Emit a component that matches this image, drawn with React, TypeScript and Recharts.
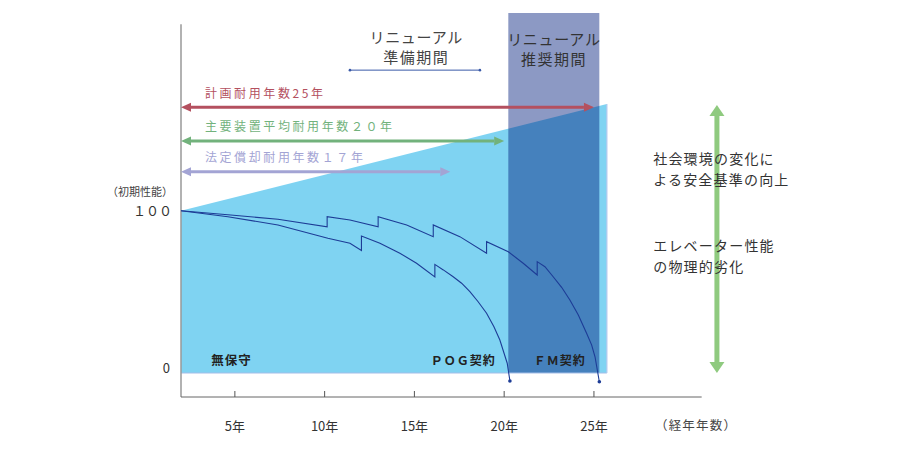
import React from "react";
import { ComposedChart, Area, Line, XAxis, YAxis, ReferenceLine, ReferenceDot } from "recharts";

// x: 経過年数, y: 性能 (初期 = 100)
const yearTicks = [5, 10, 15, 20, 25];
const levelTicks = [0, 100];
const levelLabels = ["0", "１００"];

// 社会環境の変化による要求水準 (台形)
const envelopeYears = [2, 25.72];
const envelopeValues = [100, 165.7];

// リニューアル推奨期間
const renewalYears = [20.23, 25.3];
const renewalValues = [221.8, 221.8];

// POG契約
const pogYears = [2, 4.61, 7.4, 10.18, 11.41, 12.05, 12.05, 13.08, 14.19, 15.12, 16.14, 16.14, 16.61, 17.16, 17.63, 18.09, 18.55, 19.02, 19.43, 19.76, 20.17, 20.32];
const pogValues = [100, 96.3, 91.2, 83.0, 79.9, 75.5, 84.4, 79.9, 73.8, 67.6, 59.2, 66.9, 63.5, 59.3, 55.3, 50.1, 43.9, 36.8, 28.5, 20.3, 6.0, -4.9];

// FM契約
const fmYears = [2, 4.61, 7.4, 10.14, 10.14, 11.41, 12.98, 12.98, 14.57, 16.05, 16.05, 17.53, 19.02, 19.02, 20.23, 21.06, 21.84, 21.84, 22.27, 22.73, 23.2, 23.66, 24.13, 24.59, 24.87, 25.06, 25.3];
const fmValues = [100, 97.5, 94.7, 90.1, 96.3, 94.3, 90.1, 96.3, 91.2, 84.0, 91.2, 84.0, 73.8, 80.9, 74.7, 67.6, 60.4, 68.6, 65.5, 59.3, 52.8, 45.0, 35.7, 24.5, 17.3, 10.0, -5.4];

const lifespanYears = [25, 20, 17];
const lifespanLabels = ["計画耐用年数25年", "主要装置平均耐用年数２０年", "法定償却耐用年数１７年"];
const prepYears = [11.41, 18.65];

const FONT = '"Noto Sans CJK JP", "Noto Sans", sans-serif';
const X_MIN = 2;
const X_MAX = 40;
const Y_MIN = -14.8;
const Y_MAX = 221.8;
const AXIS_X = 181;
const AXIS_Y = 397;

const toRows = (xs: number[], ys: number[]) => xs.map((year, i) => ({ year, value: ys[i] }));

const arrowShape = (color: string, width: number, head: number, half: number) => (p: any) => {
  const { x1, y1, x2, y2 } = p;
  const len = Math.hypot(x2 - x1, y2 - y1) || 1;
  const ux = (x2 - x1) / len;
  const uy = (y2 - y1) / len;
  const nx = -uy;
  const ny = ux;
  const ax = x1 + ux * head, ay = y1 + uy * head;
  const bx = x2 - ux * head, by = y2 - uy * head;
  return (
    <g>
      <line x1={ax} y1={ay} x2={bx} y2={by} stroke={color} strokeWidth={width} />
      <polygon points={`${x1},${y1} ${ax + nx * half},${ay + ny * half} ${ax - nx * half},${ay - ny * half}`} fill={color} />
      <polygon points={`${x2},${y2} ${bx + nx * half},${by + ny * half} ${bx - nx * half},${by - ny * half}`} fill={color} />
    </g>
  );
};

const textDot = (key: string, x: number, y: number, text: string, opts: any) => (
  <ReferenceDot
    key={key}
    x={x}
    y={y}
    r={0}
    ifOverflow="visible"
    shape={(p: any) => (
      <text
        x={p.cx}
        y={p.cy}
        dominantBaseline="central"
        fontFamily={FONT}
        fontSize={opts.size}
        fill={opts.color}
        fontWeight={opts.weight || 400}
        letterSpacing={opts.spacing || 0}
        textAnchor={opts.anchor || "start"}
      >
        {text}
      </text>
    )}
  />
);

const YearTick = (p: any) => (
  <g>
    <line x1={p.x} y1={AXIS_Y - 6} x2={p.x} y2={AXIS_Y} stroke="#555" strokeWidth={1} />
    <text x={p.x} y={AXIS_Y + 28} textAnchor="middle" dominantBaseline="central" fontFamily={FONT} fontSize={13} fill="#333">
      {p.payload.value}年
    </text>
  </g>
);

const LevelTick = (p: any) => {
  const v = p.payload.value;
  const label = levelLabels[levelTicks.indexOf(v)];
  const tx = AXIS_X - 9;
  if (v === 100) {
    return (
      <g>
        <text x={tx + 1} y={p.y - 20} textAnchor="end" dominantBaseline="central" fontFamily={FONT} fontSize={11} fill="#444">
          （初期性能）
        </text>
        <text x={tx} y={p.y} textAnchor="end" dominantBaseline="central" fontFamily={FONT} fontSize={13} fill="#333">
          {label}
        </text>
      </g>
    );
  }
  return (
    <text x={tx - 2} y={p.y - 5} textAnchor="end" dominantBaseline="central" fontFamily={FONT} fontSize={13} fill="#333">
      {label}
    </text>
  );
};

const endDot = (last: number) => (p: any) =>
  p.index === last ? <circle key={p.index} cx={p.cx} cy={p.cy} r={1.8} fill="#1d3c96" /> : <g key={p.index} />;

const lifespanColors = ["#b4505f", "#72b27c", "#a3a4d4"];
const lifespanLevels = [163.8, 143.0, 124.0];

export default function App() {
  const envRows = toRows(envelopeYears, envelopeValues);
  const renewalRows = toRows(renewalYears, renewalValues);
  const pogRows = toRows(pogYears, pogValues);
  const fmRows = toRows(fmYears, fmValues);

  return (
    <div style={{ position: "absolute", left: 0, top: 0, background: "#fff" }}>
      <ComposedChart width={900} height={450} margin={{ top: 13, right: 36.75, bottom: 13, left: 101 }}>
        <XAxis
          dataKey="year"
          type="number"
          domain={[X_MIN, X_MAX]}
          ticks={yearTicks}
          allowDataOverflow
          axisLine={false}
          tickLine={false}
          tickSize={0}
          tickMargin={0}
          height={40}
          tick={<YearTick />}
        />
        <YAxis
          type="number"
          domain={[Y_MIN, Y_MAX]}
          ticks={levelTicks}
          allowDataOverflow
          axisLine={false}
          tickLine={false}
          width={80}
          tick={<LevelTick />}
        />

        <Area data={envRows} dataKey="value" type="linear" baseValue={0} fill="#7fd3f2" fillOpacity={1} stroke="none" isAnimationActive={false} />
        <Area data={renewalRows} dataKey="value" type="linear" baseValue={0} fill="rgb(0,28,124)" fillOpacity={0.45} stroke="none" isAnimationActive={false} />

        <ReferenceLine segment={[{ x: envelopeYears[0], y: 0 }, { x: envelopeYears[1], y: 0 }]} stroke="#a3bde8" strokeWidth={1.2} ifOverflow="visible" />
        <ReferenceLine segment={[{ x: envelopeYears[1], y: 0 }, { x: envelopeYears[1], y: envelopeValues[1] }]} stroke="#b0c8ee" strokeWidth={1.2} ifOverflow="visible" />

        <ReferenceLine segment={[{ x: X_MIN, y: Y_MIN }, { x: X_MIN, y: 214.8 }]} stroke="#999" strokeWidth={1.5} ifOverflow="visible" />
        <ReferenceLine segment={[{ x: X_MIN, y: Y_MIN }, { x: 31, y: Y_MIN }]} stroke="#666" strokeWidth={1} ifOverflow="visible" />

        {lifespanYears.map((yr, i) => (
          <ReferenceLine
            key={`ls${i}`}
            segment={[{ x: X_MIN, y: lifespanLevels[i] }, { x: yr, y: lifespanLevels[i] }]}
            ifOverflow="visible"
            shape={arrowShape(lifespanColors[i], 3, 10, 4.5)}
          />
        ))}
        {lifespanLabels.map((t, i) => textDot(`lt${i}`, 3.33, lifespanLevels[i] + 9.2, t, { size: 12, color: lifespanColors[i], spacing: 2.6 }))}

        <ReferenceLine
          segment={[{ x: prepYears[0], y: 186.6 }, { x: prepYears[1], y: 186.6 }]}
          ifOverflow="visible"
          shape={(p: any) => (
            <g>
              <line x1={p.x1} y1={p.y1} x2={p.x2} y2={p.y2} stroke="#3a5aa8" strokeWidth={1} />
              <circle cx={p.x1} cy={p.y1} r={1.3} fill="#3a5aa8" />
              <circle cx={p.x2} cy={p.y2} r={1.3} fill="#3a5aa8" />
            </g>
          )}
        />

        <ReferenceLine segment={[{ x: 31.85, y: 165.1 }, { x: 31.85, y: 0 }]} ifOverflow="visible" shape={arrowShape("#8fca7f", 5, 11, 7.5)} />

        <Line data={pogRows} dataKey="value" type="linear" stroke="#1d3c96" strokeWidth={1.1} dot={endDot(pogRows.length - 1)} activeDot={false} isAnimationActive={false} />
        <Line data={fmRows} dataKey="value" type="linear" stroke="#1d3c96" strokeWidth={1.1} dot={endDot(fmRows.length - 1)} activeDot={false} isAnimationActive={false} />

        {textDot("prep1", 15.1, 207.3, "リニューアル", { size: 15, color: "#444", spacing: 0.7, anchor: "middle" })}
        {textDot("prep2", 15.1, 195.0, "準備期間", { size: 15, color: "#444", spacing: 1.5, anchor: "middle" })}
        {textDot("rec1", 22.77, 206.2, "リニューアル", { size: 15, color: "#333", spacing: 0.7, anchor: "middle" })}
        {textDot("rec2", 22.77, 193.9, "推奨期間", { size: 15, color: "#333", spacing: 1.5, anchor: "middle" })}

        {textDot("c0", 4.82, 8.0, "無保守", { size: 12.5, color: "#222", weight: 700, spacing: 1, anchor: "middle" })}
        {textDot("c1", 17.72, 8.0, "ＰＯＧ契約", { size: 12, color: "#222", weight: 700, spacing: 1, anchor: "middle" })}
        {textDot("c2", 23.1, 8.0, "ＦＭ契約", { size: 12, color: "#222", weight: 700, spacing: 1, anchor: "middle" })}

        {textDot("n1", 28.3, 132.5, "社会環境の変化に", { size: 14, color: "#333", spacing: 1.2 })}
        {textDot("n2", 28.3, 119.5, "よる安全基準の向上", { size: 14, color: "#333", spacing: 1.2 })}
        {textDot("n3", 28.3, 78.9, "エレベーター性能", { size: 14, color: "#333", spacing: 1.2 })}
        {textDot("n4", 28.3, 65.9, "の物理的劣化", { size: 14, color: "#333", spacing: 1.2 })}

        {textDot("xl", 28.4, -32, "（経年年数）", { size: 12.5, color: "#444", spacing: 1.2 })}
      </ComposedChart>
    </div>
  );
}
